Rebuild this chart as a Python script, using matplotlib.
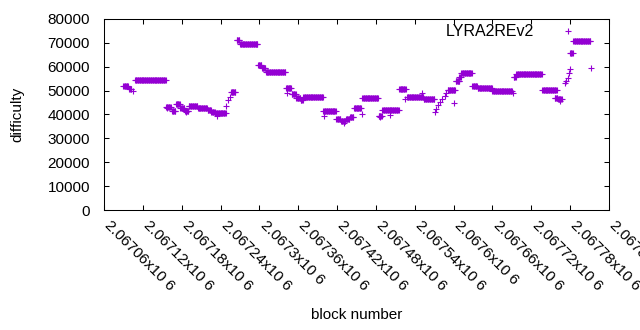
import numpy as np
import matplotlib
matplotlib.use('Agg')
import matplotlib.pyplot as plt
from matplotlib.transforms import ScaledTranslation, blended_transform_factory

# difficulty is constant between retargets: each run is (first block, last block, difficulty)
# single points have first == last
seg_first = [2067090, 2067099, 2067105, 2067108, 2067156, 2067157, 2067165, 2067171,
             2067178, 2067185, 2067187, 2067191, 2067205, 2067220, 2067226, 2067232,
             2067235, 2067249, 2067252, 2067254, 2067256, 2067265, 2067270, 2067298,
             2067304, 2067310, 2067341, 2067342, 2067350, 2067357, 2067364, 2067368,
             2067399, 2067400, 2067419, 2067426, 2067431, 2067434, 2067440, 2067446,
             2067458, 2067459, 2067484, 2067486, 2067490, 2067501, 2067516, 2067525,
             2067528, 2067551, 2067554, 2067571, 2067573, 2067576, 2067579, 2067582,
             2067586, 2067589, 2067591, 2067601, 2067603, 2067609, 2067612, 2067629,
             2067637, 2067660, 2067692, 2067693, 2067697, 2067737, 2067756, 2067761,
             2067765, 2067772, 2067774, 2067776, 2067778, 2067779, 2067780, 2067785,
             2067812]
seg_last = [2067097, 2067102, 2067105, 2067155, 2067163, 2067157, 2067170, 2067177,
            2067184, 2067190, 2067187, 2067204, 2067219, 2067225, 2067231, 2067248,
            2067235, 2067249, 2067252, 2067254, 2067263, 2067269, 2067297, 2067303,
            2067309, 2067340, 2067349, 2067342, 2067356, 2067363, 2067367, 2067398,
            2067418, 2067400, 2067425, 2067433, 2067431, 2067439, 2067445, 2067457,
            2067458, 2067483, 2067489, 2067486, 2067515, 2067501, 2067526, 2067525,
            2067553, 2067551, 2067570, 2067571, 2067573, 2067576, 2067579, 2067582,
            2067586, 2067589, 2067602, 2067601, 2067609, 2067611, 2067628, 2067636,
            2067659, 2067690, 2067692, 2067696, 2067736, 2067759, 2067760, 2067767,
            2067765, 2067772, 2067774, 2067776, 2067778, 2067779, 2067784, 2067811,
            2067812]
seg_diff = [51800, 50800, 49800, 54300, 43300, 42800, 41600, 44300,
            42800, 41400, 40900, 43700, 42900, 42000, 41200, 40500,
            39300, 43400, 45900, 47500, 49600, 71400, 69400, 60800,
            59300, 57700, 51300, 48800, 48500, 47000, 46000, 47200,
            41300, 39400, 38300, 37400, 36400, 38000, 38800, 42600,
            40200, 46900, 39500, 38900, 42000, 39800, 50600, 46500,
            47200, 48900, 46300, 41000, 42400, 43900, 45100, 46300,
            47800, 48800, 50300, 45000, 54000, 55600, 57300, 51800,
            51000, 49900, 49000, 55500, 57100, 50300, 47000, 46400,
            45800, 53000, 54000, 55100, 57500, 58900, 65800, 70700,
            59300]

x_ticks = np.arange(2067060, 2067841, 60)
x_labels = [f'{round(v / 1e6, 5):g}x10 6' for v in x_ticks]
y_ticks = np.arange(0, 80001, 10000)

blocks = np.concatenate([np.arange(a, b + 1) for a, b in zip(seg_first, seg_last)])
diffs = np.concatenate([np.full(b - a + 1, d) for a, b, d in zip(seg_first, seg_last, seg_diff)])

plt.rcParams['font.family'] = ['Liberation Sans', 'DejaVu Sans']
plt.rcParams['font.size'] = 11

fig = plt.figure(figsize=(6.4, 3.3), dpi=100)
ax = fig.add_axes([104 / 640, 1 - 210 / 330, 505 / 640, 191 / 330])

ax.plot(blocks, diffs, ls='none', marker='+', ms=5, mew=0.8, color='#9400d3',
        label='LYRA2REv2')

ax.set_xlim(x_ticks[0], x_ticks[-1])
ax.set_ylim(0, 80000)
ax.set_xticks(x_ticks)
ax.set_xticklabels([])
# gnuplot-style rotated labels start just right of the tick
trans = blended_transform_factory(ax.transData, ax.transAxes) + \
    ScaledTranslation(0.08, -0.08, fig.dpi_scale_trans)
for v, lab in zip(x_ticks, x_labels):
    ax.text(v, 0, lab, transform=trans, rotation=-45, ha='left', va='top',
            rotation_mode='anchor', clip_on=False)
ax.set_yticks(y_ticks)
ax.tick_params(direction='in', top=True, right=True, length=3.5, width=0.75)
ax.tick_params(axis='y', pad=10)
for s in ax.spines.values():
    s.set_linewidth(0.75)

ax.set_xlabel('block number')
ax.xaxis.set_label_coords(0.5, -98 / 191)
ax.set_ylabel('difficulty', labelpad=17)
ax.legend(loc='center right', bbox_to_anchor=(0.9625, 0.932), frameon=False,
          markerfirst=False, handlelength=2, handletextpad=1.1, borderaxespad=0,
          borderpad=0.4, fontsize=11.5)

fig.savefig('out.png', dpi=100)
